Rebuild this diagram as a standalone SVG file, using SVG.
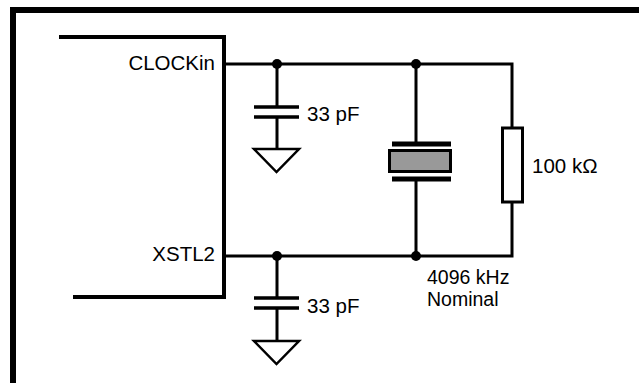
<svg xmlns="http://www.w3.org/2000/svg" width="639" height="383" viewBox="0 0 639 383">
<style>
.w{fill:none;stroke:#000;stroke-width:3}
.plate{stroke:#000;stroke-width:3.5}
.gnd{fill:none;stroke:#000;stroke-width:2.5;stroke-linejoin:miter}
.dot{fill:#000}
text{font-family:"Liberation Sans",Arial,sans-serif;font-size:20.5px;fill:#000}
.xl{font-size:19.5px}
</style>
<rect width="639" height="383" fill="#fff"/>
<g id="frame"><path d="M13,383 V10 H639" fill="none" stroke="#000" stroke-width="6"/></g>
<g id="chip">
<path d="M59,37 H224 V297 H73" fill="none" stroke="#000" stroke-width="4"/>
<text x="215" y="70" text-anchor="end">CLOCKin</text>
<text x="215" y="261" text-anchor="end">XSTL2</text>
</g>
<g id="connectors">
<path class="w" d="M224,64 H512 V128"/>
<path class="w" d="M224,256 H512 V202"/>
<path class="w" d="M416,64 V143 M416,180 V256"/>
<path class="w" d="M277,64 V107 M277,117 V149"/>
<path class="w" d="M277,256 V298 M277,308 V341"/>
<circle class="dot" cx="277" cy="64" r="5"/>
<circle class="dot" cx="416" cy="64" r="5"/>
<circle class="dot" cx="277" cy="256" r="5"/>
<circle class="dot" cx="416" cy="256" r="5"/>
</g>
<g id="c1">
<path class="plate" d="M254,107 H299 M254,117 H299"/>
<path class="gnd" d="M254,149 H299 L276.5,172 Z"/>
<text x="307" y="121">33 pF</text>
</g>
<g id="c2">
<path class="plate" d="M254,298 H299 M254,308 H299"/>
<path class="gnd" d="M254,341 H299 L276.5,364 Z"/>
<text x="307" y="313">33 pF</text>
</g>
<g id="crystal">
<rect x="392" y="141.5" width="59" height="5" fill="#000"/>
<rect x="389.5" y="150.5" width="61" height="21" fill="#999" stroke="#000" stroke-width="3"/>
<rect x="392" y="176.5" width="59" height="5" fill="#000"/>
<text class="xl" x="427" y="284">4096 kHz</text>
<text class="xl" x="427" y="306">Nominal</text>
</g>
<g id="resistor">
<rect x="502.5" y="128" width="20" height="74" fill="#fff" stroke="#000" stroke-width="3"/>
<text x="532" y="173">100 kΩ</text>
</g>
</svg>
